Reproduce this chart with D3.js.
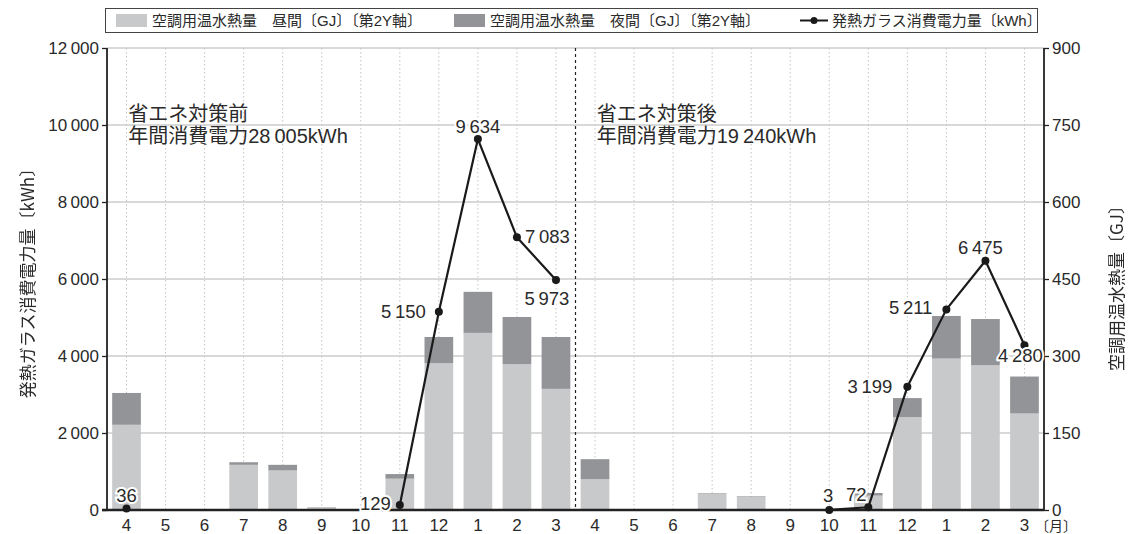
<!DOCTYPE html>
<html>
<head>
<meta charset="utf-8">
<script src="https://cdn.jsdelivr.net/npm/d3@7/dist/d3.min.js"></script>
<style>
  html, body { margin: 0; padding: 0; background: #fff; }
  svg { display: block; }
  text { font-family: "Liberation Sans", "Noto Sans CJK JP", sans-serif; fill: #2a2a2a; }
</style>
</head>
<body>
<svg id="chart" width="1129" height="534"></svg>
<script>
// Month labels: April of year 1 through March of year 2, twice (before / after measures)
const months = ["4","5","6","7","8","9","10","11","12","1","2","3",
                "4","5","6","7","8","9","10","11","12","1","2","3"];

// Hot water heat for air conditioning, daytime (GJ, secondary axis)
const dayHeat = [166, 0, 2, 88, 77, 4, 0, 61, 286, 345, 284, 236,
                 60, 0, 0, 32, 26, 0, 0, 28, 181, 295, 282, 188];

// Hot water heat for air conditioning, night-time (GJ, secondary axis)
const nightHeat = [62, 0, 0, 5, 11, 1, 0, 9, 51, 80, 92, 101,
                   39, 0, 0, 1, 1, 0, 0, 5, 37, 83, 90, 72];

// Power used by the heated glass (kWh); null where no reading
const glassPower = [36, null, null, null, null, null, null, 129, 5150, 9634, 7083, 5973,
                    null, null, null, null, null, null, 3, 72, 3199, 5211, 6475, 4280];

const leftTicks = [0, 2000, 4000, 6000, 8000, 10000, 12000];
const rightTicks = [0, 150, 300, 450, 600, 750, 900];

// Period annotations: title and annual total
const periodTitles = ["省エネ対策前", "省エネ対策後"];
const periodTotals = [28005, 19240];

const legendLabels = ["空調用温水熱量\u3000昼間〔GJ〕〔第2Y軸〕",
                      "空調用温水熱量\u3000夜間〔GJ〕〔第2Y軸〕",
                      "発熱ガラス消費電力量〔kWh〕"];

// Placement of each value label relative to its point: [anchor, dx, dy]
const labelPlacement = {
  0: ["middle", 0, -7], 7: ["end", -9, 5], 8: ["end", -13, 6], 9: ["middle", 0, -6],
  10: ["start", 8, 6], 11: ["middle", -9, 25],
  18: ["middle", -1, -8], 19: ["middle", -12, -6], 20: ["end", -15, 6],
  21: ["end", -14, 5], 22: ["middle", -5, -7], 23: ["middle", -4, 17]
};

const COLOR_DAY = "#c8c9cb";
const COLOR_NIGHT = "#939497";
const fmt = v => d3.format(",")(v).replace(/,/g, "\u2009");

const svg = d3.select("#chart");
const m = { left: 107, right: 1044, top: 48, bottom: 510 };

const x = d3.scaleBand()
  .domain(d3.range(months.length))
  .range([m.left, m.right])
  .paddingInner(0.265)
  .paddingOuter(0.1325);
const cx = i => x(i) + x.bandwidth() / 2;

const yL = d3.scaleLinear().domain([0, 12000]).range([m.bottom, m.top]);
const yR = d3.scaleLinear().domain([0, 900]).range([m.bottom, m.top]);

// Horizontal gridlines
svg.append("g").selectAll("line").data(leftTicks.slice(1)).join("line")
  .attr("x1", m.left).attr("x2", m.right)
  .attr("y1", d => yL(d)).attr("y2", d => yL(d))
  .attr("stroke", "#b4b4b4").attr("stroke-width", 1.2);

// Vertical dotted gridlines at each month
svg.append("g").selectAll("line").data(d3.range(months.length)).join("line")
  .attr("x1", d => cx(d)).attr("x2", d => cx(d))
  .attr("y1", m.top).attr("y2", m.bottom)
  .attr("stroke", "#c4c4c4").attr("stroke-width", 1).attr("stroke-dasharray", "1.5,2.5");

// Stacked bars (secondary axis)
const bars = svg.append("g");
bars.selectAll("rect.day").data(dayHeat).join("rect")
  .attr("class", "day")
  .attr("x", (d, i) => x(i)).attr("width", x.bandwidth())
  .attr("y", d => yR(d)).attr("height", d => yR(0) - yR(d))
  .attr("fill", COLOR_DAY);
bars.selectAll("rect.night").data(nightHeat).join("rect")
  .attr("class", "night")
  .attr("x", (d, i) => x(i)).attr("width", x.bandwidth())
  .attr("y", (d, i) => yR(dayHeat[i] + d)).attr("height", (d, i) => yR(dayHeat[i]) - yR(dayHeat[i] + d))
  .attr("fill", COLOR_NIGHT);

// Divider between the two periods
const divX = (x(11) + x.bandwidth() + x(12)) / 2;
svg.append("line")
  .attr("x1", divX).attr("x2", divX).attr("y1", m.top).attr("y2", m.bottom)
  .attr("stroke", "#222").attr("stroke-width", 1.2).attr("stroke-dasharray", "3,3");

// Axes
const axisL = svg.append("g").attr("transform", `translate(${m.left},0)`)
  .call(d3.axisLeft(yL).tickValues(leftTicks).tickFormat(fmt).tickSize(5).tickPadding(3));
const axisR = svg.append("g").attr("transform", `translate(${m.right},0)`)
  .call(d3.axisRight(yR).tickValues(rightTicks).tickSize(5).tickPadding(3));
const axisB = svg.append("g").attr("transform", `translate(0,${m.bottom})`)
  .call(d3.axisBottom(x).tickFormat(i => months[i]).tickSize(0).tickPadding(9));
[axisL, axisR, axisB].forEach(g => {
  g.selectAll("text").style("font-size", "17px").attr("fill", "#2a2a2a")
    .style("font-family", "'Liberation Sans', sans-serif");
  g.selectAll(".tick line").attr("stroke", "#222").attr("stroke-width", 1.3);
  g.select(".domain").attr("stroke", "#222");
});
axisL.select(".domain").attr("stroke-width", 1.8).attr("d", `M0,${m.top}V${m.bottom}`);
axisR.select(".domain").attr("stroke-width", 1.8).attr("d", `M0,${m.top}V${m.bottom}`);
axisB.select(".domain").attr("stroke-width", 2.6).attr("d", `M${m.left - 5},0H${m.right}`);
axisB.selectAll("text").attr("dy", "0.71em");

svg.append("text").attr("x", m.right - 9).attr("y", 531)
  .style("font-size", "14px").text("〔月〕");

// Power line, split where there is no reading
const line = d3.line()
  .defined(d => d.v !== null)
  .x(d => cx(d.i)).y(d => yL(d.v));
const pts = glassPower.map((v, i) => ({ i, v }));
svg.append("path").datum(pts)
  .attr("d", line).attr("fill", "none")
  .attr("stroke", "#1a1a1a").attr("stroke-width", 2.2).attr("stroke-linejoin", "round");
svg.append("g").selectAll("circle").data(pts.filter(d => d.v !== null)).join("circle")
  .attr("cx", d => cx(d.i)).attr("cy", d => yL(d.v)).attr("r", 4)
  .attr("fill", "#1a1a1a");

// Value labels
svg.append("g").selectAll("text").data(pts.filter(d => d.v !== null)).join("text")
  .attr("x", d => cx(d.i) + labelPlacement[d.i][1])
  .attr("y", d => yL(d.v) + labelPlacement[d.i][2])
  .attr("text-anchor", d => labelPlacement[d.i][0])
  .style("font-size", "18.5px")
  .attr("stroke", "#fff").attr("stroke-width", 4).attr("paint-order", "stroke")
  .text(d => fmt(d.v));

// Period annotations
[0, 12].forEach((start, k) => {
  const ax = x(start) + 16;
  svg.append("text").attr("x", ax).attr("y", 121).style("font-size", "20px").text(periodTitles[k]);
  svg.append("text").attr("x", ax).attr("y", 143).style("font-size", "20px")
    .text("年間消費電力" + fmt(periodTotals[k]) + "kWh");
});

// Axis titles (grouped with near-full opacity so the rotated glyphs render in grey)
const titles = svg.append("g").attr("opacity", 0.999);
titles.append("text")
  .attr("transform", `translate(34,${(m.top + m.bottom) / 2}) rotate(-90)`)
  .attr("text-anchor", "middle").style("font-size", "17px")
  .style("font-family", "'Noto Sans CJK JP', sans-serif")
  .text("発熱ガラス消費電力量〔kWh〕");
titles.append("text")
  .attr("transform", `translate(1123,${(m.top + m.bottom) / 2 + 5}) rotate(-90)`)
  .attr("text-anchor", "middle").style("font-size", "17px")
  .style("font-family", "'Noto Sans CJK JP', sans-serif")
  .text("空調用温水熱量〔GJ〕");

// Legend
const lg = svg.append("g");
lg.append("rect").attr("x", 105.5).attr("y", 8.5).attr("width", 932).attr("height", 24)
  .attr("fill", "#fff").attr("stroke", "#444").attr("stroke-width", 1);
const swatchX = [116, 454];
[COLOR_DAY, COLOR_NIGHT].forEach((c, k) => {
  lg.append("rect").attr("x", swatchX[k]).attr("y", 14).attr("width", 31).attr("height", 13).attr("fill", c);
  lg.append("text").attr("x", swatchX[k] + 36).attr("y", 26).style("font-size", "15px").text(legendLabels[k]);
});
lg.append("line").attr("x1", 800).attr("x2", 828).attr("y1", 20.5).attr("y2", 20.5)
  .attr("stroke", "#1a1a1a").attr("stroke-width", 2);
lg.append("circle").attr("cx", 814).attr("cy", 20.5).attr("r", 3.5).attr("fill", "#1a1a1a");
lg.append("text").attr("x", 832).attr("y", 26).style("font-size", "15px").text(legendLabels[2]);
</script>
</body>
</html>
